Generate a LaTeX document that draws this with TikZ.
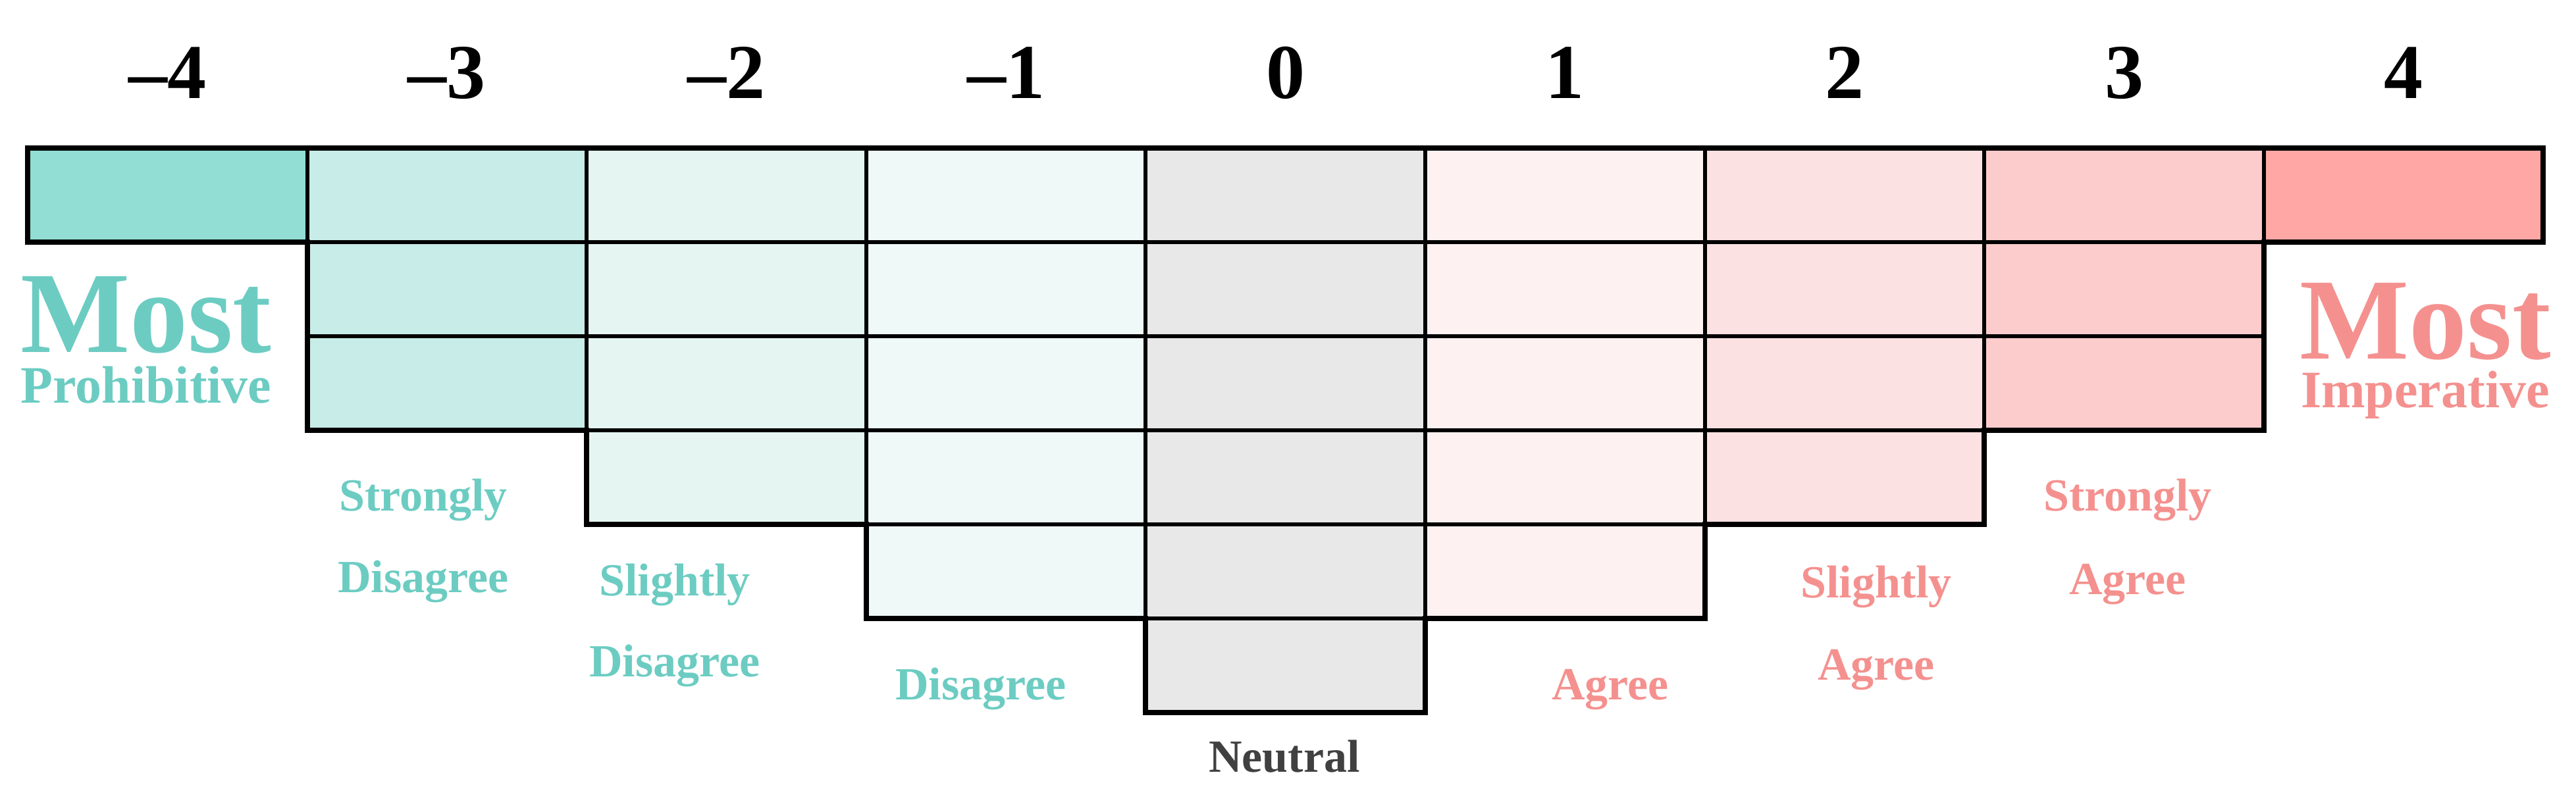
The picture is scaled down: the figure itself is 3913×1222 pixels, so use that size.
\documentclass[tikz,border=0pt]{standalone}
\usepackage{fontspec}
\setmainfont{Liberation Serif}
\definecolor{tealtxt}{HTML}{6CCCC2}
\definecolor{pinktxt}{HTML}{F4918F}
\definecolor{neutxt}{HTML}{404040}
\definecolor{cA}{HTML}{92DED5}
\definecolor{cB}{HTML}{C8ECE8}
\definecolor{cC}{HTML}{E5F5F2}
\definecolor{cD}{HTML}{EFF9F8}
\definecolor{cE}{HTML}{E8E8E8}
\definecolor{cF}{HTML}{FDF1F1}
\definecolor{cG}{HTML}{FCE1E2}
\definecolor{cH}{HTML}{FCCCCC}
\definecolor{cI}{HTML}{FEA7A5}
\tikzset{
  cell/.style={draw=black, line width=6pt, minimum width=424.6pt, minimum height=143pt, inner sep=0pt, outer sep=0pt},
  num/.style={font=\fontsize{118}{118}\selectfont\bfseries, text=black, anchor=base, inner sep=0pt},
  lab/.style={font=\fontsize{70}{70}\selectfont\bfseries, anchor=base, inner sep=0pt},
  big/.style={font=\fontsize{176}{176}\selectfont\bfseries, anchor=base, inner sep=0pt},
  sub/.style={font=\fontsize{80}{80}\selectfont\bfseries, anchor=base, inner sep=0pt},
  outline/.style={draw=black, line width=8pt, line join=miter}
}
\begin{document}
\begin{tikzpicture}[x=1pt,y=-1pt]
\useasboundingbox (0,0) rectangle (3913,1222);
\foreach \c/\n/\col in {0/1/cA,1/3/cB,2/4/cC,3/5/cD,4/6/cE,5/5/cF,6/4/cG,7/3/cH,8/1/cI}{
  \foreach \r in {1,...,\n}{
    \node[cell, fill=\col] (c\c-\r) at ({42+424.6*(\c+0.5)},{225+143*(\r-0.5)}) {};
  }
}
\draw[outline] (c0-1.north west) -- (c8-1.north east) -- (c8-1.south east) -- (c8-1.south west)
  -- (c7-3.south east) -- (c7-3.south west) -- (c6-4.south east) -- (c6-4.south west)
  -- (c5-5.south east) -- (c5-5.south west) -- (c4-6.south east) -- (c4-6.south west)
  -- (c3-5.south east) -- (c3-5.south west) -- (c2-4.south east) -- (c2-4.south west)
  -- (c1-3.south east) -- (c1-3.south west) -- (c0-1.south east) -- (c0-1.south west) -- cycle;
% scale numbers
\node[num] (nm4) at (254.3,150) {–4};
\node[num] (nm3) at (678.9,150) {–3};
\node[num] (nm2) at (1103.5,150) {–2};
\node[num] (nm1) at (1528.1,150) {–1};
\node[num] (n0) at (1952.7,150) {0};
\node[num] (n1) at (2377.3,150) {1};
\node[num] (n2) at (2801.9,150) {2};
\node[num] (n3) at (3226.5,150) {3};
\node[num] (n4) at (3651.1,150) {4};
% extremes
\node[big, text=tealtxt] (mostL) at (222,535) {Most};
\node[sub, text=tealtxt] (prohib) at (222,612) {Prohibitive};
\node[big, text=pinktxt] (mostR) at (3684,545) {Most};
\node[sub, text=pinktxt] (imper) at (3684,619) {Imperative};
% category labels
\node[lab, text=tealtxt] (sd1) at (643,776) {Strongly};
\node[lab, text=tealtxt] (sd2) at (643,900) {Disagree};
\node[lab, text=tealtxt] (ld1) at (1025,905) {Slightly};
\node[lab, text=tealtxt] (ld2) at (1025,1028) {Disagree};
\node[lab, text=tealtxt] (dis) at (1490,1063) {Disagree};
\node[lab, text=neutxt] (neu) at (1951,1173) {Neutral};
\node[lab, text=pinktxt] (agr) at (2446,1063) {Agree};
\node[lab, text=pinktxt] (la1) at (2850,908) {Slightly};
\node[lab, text=pinktxt] (la2) at (2850,1033) {Agree};
\node[lab, text=pinktxt] (sa1) at (3232,776) {Strongly};
\node[lab, text=pinktxt] (sa2) at (3232,903) {Agree};
\end{tikzpicture}
\end{document}
